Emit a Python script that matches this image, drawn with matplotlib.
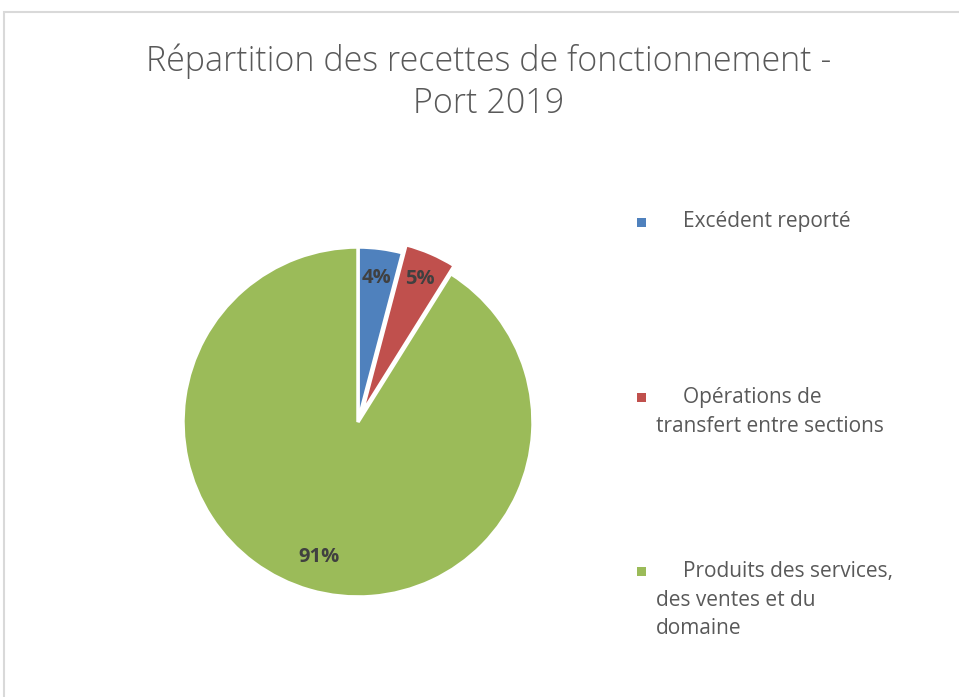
import matplotlib
matplotlib.use("Agg")
import matplotlib.pyplot as plt
from matplotlib.patches import Rectangle
import numpy as np

title = "Répartition des recettes de fonctionnement -\nPort 2019"
categories = ["Excédent reporté",
              "Opérations de\ntransfert entre sections",
              "Produits des services,\ndes ventes et du\ndomaine"]
values = [4.1, 4.8, 91.1]
pct_labels = ["4%", "5%", "91%"]
colors = ["#4F81BD", "#C0504D", "#9BBB59"]

W, H = 959, 697
fig = plt.figure(figsize=(W / 100, H / 100), dpi=100)
fig.patch.set_facecolor("white")

# chart border
fig.patches.append(Rectangle((4 / W, -0.05), 1.1, 1 - 12 / H + 0.05,
                             transform=fig.transFigure, fill=False,
                             edgecolor="#D9D9D9", linewidth=1.5))

cx, cy, r = 358, 422, 175
ax = fig.add_axes([(cx - r) / W, (H - cy - r) / H, 2 * r / W, 2 * r / H])
wedges, texts = ax.pie(values, colors=colors, startangle=90, counterclock=False,
                       explode=[0.0, 0.05, 0.0],
                       wedgeprops=dict(edgecolor="white", linewidth=2.5))
for w, lab, d in zip(wedges, pct_labels, [0.83, 0.84, 0.8]):
    ang = np.deg2rad((w.theta1 + w.theta2) / 2)
    x0, y0 = w.center
    ax.text(x0 + d * np.cos(ang), y0 + d * np.sin(ang), lab, ha="center", va="center",
            fontsize=14.5, fontweight="bold", color="#404040", family="Open Sans")
ax.set_xlim(-1, 1)
ax.set_ylim(-1, 1)
ax.set_aspect("equal")
ax.axis("off")
for w in wedges:
    w.set_clip_on(False)

fig.text(489 / W, 1 - 82 / H, title, ha="center", va="center", fontsize=24.5,
         color="#595959", family="Open Sans", fontweight="light", linespacing=1.3)

legend_y = [222, 397, 571]
for cat, col, ly in zip(categories, colors, legend_y):
    fig.patches.append(Rectangle((637 / W, 1 - (ly + 5) / H), 9 / W, 9 / H,
                                 transform=fig.transFigure, facecolor=col,
                                 edgecolor="none"))
    lines = cat.split("\n")
    fig.text(683 / W, 1 - ly / H, lines[0], ha="left", va="center", fontsize=15,
             color="#595959", family="Open Sans")
    for i, ln in enumerate(lines[1:], start=1):
        fig.text(656 / W, 1 - (ly + 29 * i) / H, ln, ha="left", va="center",
                 fontsize=15, color="#595959", family="Open Sans")

fig.savefig("out.png", dpi=100, facecolor="white")
